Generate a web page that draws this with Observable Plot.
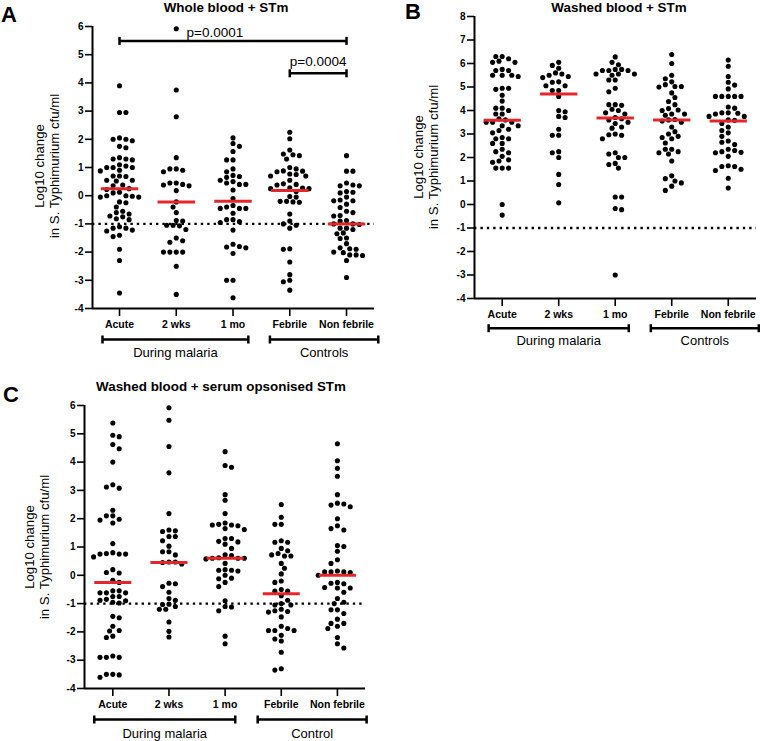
<!DOCTYPE html>
<html><head><meta charset="utf-8">
<script src="https://cdn.jsdelivr.net/npm/d3@7"></script>
<script src="https://cdn.jsdelivr.net/npm/@observablehq/plot@0.6"></script>
<style>
body{margin:0;background:#fff;font-family:"Liberation Sans",Arial,Helvetica,sans-serif}
#wrap{position:relative;width:760px;height:741px;overflow:hidden;background:#fff}
.panel{position:absolute}
.panel svg{overflow:visible}
.letter{position:absolute;font-weight:bold;font-size:22px;line-height:1}
.title{position:absolute;font-weight:bold;font-size:13.4px;line-height:1;transform:translateX(-50%);white-space:nowrap}
.ytitle{position:absolute;font-size:13.2px;line-height:15px;white-space:pre;text-align:center;transform:translate(-50%,-50%) rotate(-90deg)}
</style></head><body><div id="wrap"></div>
<script>
// ---------- data ----------
const categories = ["Acute", "2 wks", "1 mo", "Febrile", "Non febrile"];
const yTitle = "Log10 change\nin S. Typhimurium cfu/ml";

// Panel A: Whole blood + STm
const A_acute = [3.9, 2.95, 2.95, 2.05, 2.0, 1.95, 2.0, 1.7, 1.75, 1.35, 1.3, 1.3, 1.27, 1.1, 1.0, 1.0, 1.05, 1.0, 0.9, 0.88, 0.7, 0.7, 0.68, 0.55, 0.55, 0.52, 0.38, 0.35, 0.25, 0.22, 0.12, 0.1, -0.02, -0.05, 0.0, -0.05, 0.0, -0.22, -0.25, -0.4, -0.6, -0.55, -0.65, -0.75, -0.72, -0.85, -0.82, -1.15, -1.15, -1.1, -1.22, -1.25, -1.4, -1.45, -1.9, -2.3, -3.45];
const A_2wks = [5.92, 3.75, 2.8, 1.35, 0.9, 0.85, 0.95, 0.95, 0.45, 0.38, 0.45, 0.4, 0.35, 0.18, -0.22, -0.4, -0.6, -0.9, -0.88, -1.05, -1.05, -1.07, -1.2, -1.5, -1.6, -1.65, -2.0, -2.0, -2.0, -2.0, -2.5, -3.5];
const A_1mo = [2.05, 1.85, 1.75, 1.57, 1.27, 1.27, 0.95, 0.85, 0.68, 0.72, 0.65, 0.55, 0.5, 0.45, 0.4, 0.4, 0.2, -0.1, -0.35, -0.4, -0.45, -0.45, -0.45, -0.62, -0.85, -0.85, -0.92, -0.95, -1.22, -1.72, -1.8, -1.85, -1.82, -2.05, -3.0, -3.0, -3.62];
const A_febrile = [2.25, 2.02, 1.62, 1.48, 1.45, 1.42, 1.3, 1.0, 0.95, 0.88, 0.85, 0.87, 0.77, 0.75, 0.7, 0.7, 0.55, 0.42, 0.4, 0.38, 0.28, 0.25, 0.27, 0.25, 0.15, -0.05, -0.03, -0.2, -0.22, -0.2, -0.23, -0.65, -0.9, -1.0, -1.05, -1.15, -1.9, -1.88, -2.35, -2.8, -3.0, -3.05, -3.35];
const A_nonfebrile = [1.42, 0.87, 0.87, 0.45, 0.38, 0.35, 0.35, 0.12, 0.1, 0.15, -0.05, -0.18, -0.18, -0.15, -0.3, -0.42, -0.6, -0.55, -0.72, -0.7, -0.88, -0.9, -1.0, -1.0, -1.02, -1.15, -1.15, -1.2, -1.32, -1.35, -1.5, -1.52, -1.7, -1.85, -1.9, -1.88, -2.0, -2.02, -2.1, -2.12, -2.1, -2.3, -2.9];
const A_medians = [0.25, -0.22, -0.2, 0.18, -1.0];
const A_comparisons = [
  {from: "Acute", to: "Non febrile", y: 5.49, label: "p=0.0001", labelAt: 1.68, gap: 3.5},
  {from: "Febrile", to: "Non febrile", y: 4.34, label: "p=0.0004", labelAt: 3.5, gap: 7.5}
];

// Panel B: Washed blood + STm
const B_acute = [6.3, 6.3, 6.2, 6.1, 6.05, 6.05, 5.75, 5.7, 5.7, 5.5, 5.5, 5.45, 5.5, 4.95, 4.95, 4.9, 4.65, 4.4, 4.1, 4.1, 4.0, 3.85, 3.85, 3.65, 3.6, 3.5, 3.5, 3.5, 3.35, 3.35, 3.2, 3.15, 3.05, 2.8, 2.8, 2.85, 2.6, 2.6, 2.35, 2.25, 2.2, 2.05, 1.9, 1.85, 1.8, 1.55, 1.55, 1.55, 0.0, -0.45];
const B_2wks = [6.05, 5.92, 5.8, 5.6, 5.55, 5.5, 5.45, 5.4, 5.2, 5.22, 5.05, 5.05, 4.85, 4.85, 4.6, 4.0, 3.95, 3.75, 3.7, 3.2, 2.95, 2.95, 2.25, 2.2, 2.0, 1.28, 0.85, 0.07];
const B_1mo = [6.28, 6.05, 5.95, 5.75, 5.75, 5.7, 5.7, 5.7, 5.55, 5.55, 5.5, 5.55, 5.3, 5.3, 4.95, 4.8, 4.25, 4.25, 4.22, 4.0, 4.05, 3.9, 3.85, 3.65, 3.7, 3.6, 3.45, 3.5, 3.25, 3.3, 2.97, 3.0, 2.95, 2.8, 2.2, 2.15, 2.0, 2.0, 1.75, 1.7, 1.55, 0.32, 0.32, -0.17, -0.22, -3.0];
const B_febrile = [6.38, 6.0, 5.5, 5.35, 5.22, 5.1, 5.02, 5.0, 5.02, 4.75, 4.55, 4.38, 4.25, 4.08, 4.0, 4.02, 3.85, 3.85, 3.8, 3.62, 3.6, 3.5, 3.55, 3.3, 3.1, 3.0, 2.9, 2.85, 2.8, 2.62, 2.35, 2.35, 2.25, 2.2, 2.15, 1.85, 1.22, 1.0, 0.92, 1.1, 0.78, 0.6];
const B_nonfebrile = [6.15, 5.88, 5.45, 5.2, 5.08, 4.92, 4.6, 4.6, 4.6, 4.6, 4.6, 4.15, 4.1, 3.9, 3.9, 3.88, 3.85, 3.75, 3.75, 3.6, 3.58, 3.45, 3.3, 3.15, 3.05, 2.9, 2.7, 2.65, 2.55, 2.35, 2.3, 2.25, 2.22, 2.2, 2.05, 1.65, 1.62, 1.5, 1.45, 1.62, 1.12, 0.7];
const B_medians = [3.58, 4.7, 3.68, 3.6, 3.55];

// Panel C: Washed blood + serum opsonised STm
const C_acute = [5.38, 4.95, 4.9, 4.62, 4.47, 4.0, 3.12, 3.08, 3.2, 2.3, 2.1, 2.1, 1.98, 1.95, 1.85, 1.12, 0.77, 0.8, 0.75, 0.75, 0.75, 0.65, 0.2, 0.1, 0.08, -0.18, -0.25, -0.55, -0.55, -0.62, -0.62, -0.62, -0.75, -0.75, -0.85, -0.88, -0.9, -0.95, -0.98, -1.5, -1.45, -1.8, -1.95, -1.97, -2.2, -2.15, -2.85, -2.9, -2.9, -2.9, -3.52, -3.6, -3.5, -3.5];
const C_2wks = [5.92, 5.48, 4.55, 3.62, 2.18, 1.57, 1.6, 1.55, 1.37, 1.37, 1.22, 1.03, 0.83, 0.83, 0.72, 0.47, 0.47, 0.45, 0.4, -0.28, -0.3, -0.4, -0.6, -0.82, -0.88, -1.03, -1.02, -1.1, -1.2, -1.2, -1.65, -1.98, -2.18];
const C_1mo = [4.37, 3.88, 3.82, 2.85, 2.65, 2.18, 1.85, 1.8, 1.78, 1.78, 1.75, 1.65, 1.62, 1.3, 1.3, 1.2, 1.18, 1.1, 0.95, 0.72, 0.7, 0.62, 0.6, 0.6, 0.6, 0.58, 0.42, 0.2, 0.18, 0.15, 0.18, 0.0, -0.1, -0.12, -0.25, -0.4, -0.9, -1.1, -1.12, -1.25, -2.15, -2.42];
const C_febrile = [2.5, 2.05, 1.8, 1.8, 1.22, 1.17, 1.17, 0.95, 0.87, 0.77, 0.72, 0.68, 0.68, 0.42, 0.25, 0.05, -0.2, -0.25, -0.5, -0.56, -0.56, -0.72, -0.88, -1.0, -1.05, -1.05, -1.2, -1.25, -1.28, -1.3, -1.47, -1.8, -1.88, -1.95, -1.95, -1.95, -2.12, -2.25, -2.32, -2.72, -3.3, -3.35];
const C_nonfebrile = [4.65, 4.05, 3.78, 3.5, 2.85, 2.55, 2.52, 2.48, 2.42, 2.0, 1.75, 1.65, 1.6, 1.05, 1.02, 0.85, 0.55, 0.42, 0.12, 0.15, 0.12, 0.1, 0.12, 0.0, -0.25, -0.28, -0.3, -0.45, -0.43, -0.45, -0.6, -0.82, -0.95, -1.0, -1.22, -1.22, -1.35, -1.55, -1.7, -1.7, -1.88, -1.8, -2.2, -2.42, -2.57];
const C_medians = [-0.25, 0.45, 0.6, -0.65, 0.0];

const threshold = -1;
const groupsControls = [{label: "During malaria", from: "Acute", to: "1 mo"}, {label: "Controls", from: "Febrile", to: "Non febrile"}];
const groupsControl = [{label: "During malaria", from: "Acute", to: "1 mo"}, {label: "Control", from: "Febrile", to: "Non febrile"}];

// ---------- layout / style ----------
const FONT = '"Liberation Sans", Arial, Helvetica, sans-serif';
const RED = "#e3262b";
const DOT_R = 2.55, DOT_STEP = 6.4, DOT_MINDIST = 5.6;

// beeswarm: place each value at the free horizontal offset nearest the category centre
function swarmOffsets(values, toPx, step, minDist) {
  const order = d3.range(values.length).sort((a, b) => values[b] - values[a]);
  const placed = [];
  const off = new Array(values.length).fill(0);
  let flip = 1;
  for (const i of order) {
    const py = toPx(values[i]);
    let chosen = 0;
    for (let k = 0; k < 200; k++) {
      const c0 = k * step / 2;
      const cands = k === 0 ? [0] : [flip * c0, -flip * c0];
      let found = null;
      for (const c of cands) {
        if (placed.every(p => (p.x - c) ** 2 + (p.y - py) ** 2 >= minDist * minDist)) { found = c; break; }
      }
      if (found !== null) { chosen = found; break; }
    }
    flip = -flip;
    off[i] = chosen;
    placed.push({x: chosen, y: py});
  }
  return off;
}

function makePanel(cfg) {
  const {series, medians, yDomain, yTicks, width, height, mt, mb, ml, mr, xDomain,
         groups, groupPads, comparisons, bracketGap, groupTextGap} = cfg;
  const yS = Plot.scale({y: {domain: yDomain, range: [height - mb, mt]}});
  const yPx = v => yS.apply(v);
  const yVal = px => yS.invert(px);
  const xPerPx = (xDomain[1] - xDomain[0]) / (width - ml - mr);
  const idx = c => categories.indexOf(c);

  const pts = [];
  series.forEach((vals, ci) => {
    const offs = swarmOffsets(vals, yPx, DOT_STEP, DOT_MINDIST);
    vals.forEach((v, j) => pts.push({ci, v, x: ci + offs[j] * xPerPx}));
  });
  const med = medians.map((m, ci) => ({ci, m}));

  const bottomPx = yPx(yDomain[0]);
  const gY = yVal(bottomPx + bracketGap);
  const cap = 4;
  const gData = groups.map((g, k) => ({
    label: g.label,
    x1: idx(g.from) - groupPads[k][0],
    x2: idx(g.to) + groupPads[k][1]
  }));
  const gCaps = gData.flatMap(g => [g.x1, g.x2].map(x => ({x, y1: yVal(bottomPx + bracketGap - cap), y2: yVal(bottomPx + bracketGap + cap)})));
  const gText = gData.map(g => ({label: g.label, x: (g.x1 + g.x2) / 2, y: yVal(bottomPx + bracketGap + groupTextGap)}));

  const comp = (comparisons || []).map(c => ({...c, x1: idx(c.from), x2: idx(c.to)}));
  const compCaps = comp.flatMap(c => [c.x1, c.x2].map(x => ({x, y1: yVal(yPx(c.y) - cap), y2: yVal(yPx(c.y) + cap)})));
  const compText = comp.map(c => ({label: c.label, x: c.labelAt, y: yVal(yPx(c.y) - c.gap)}));

  return Plot.plot({
    width, height, marginTop: mt, marginBottom: mb, marginLeft: ml, marginRight: mr,
    style: {fontFamily: FONT, fontWeight: "bold", color: "black", background: "transparent", overflow: "visible"},
    x: {domain: xDomain},
    y: {domain: yDomain},
    marks: [
      Plot.ruleY([threshold], {stroke: "black", strokeWidth: 2.4, strokeDasharray: "2.4,4"}),
      Plot.dot(pts, {x: "x", y: "v", r: DOT_R, fill: "black", stroke: "none"}),
      Plot.link(med, {x1: d => d.ci - 0.33, x2: d => d.ci + 0.33, y1: "m", y2: "m", stroke: RED, strokeWidth: 3}),
      Plot.axisY({ticks: yTicks, tickSize: 7, tickPadding: 2, tickFormat: d => String(d), fontSize: 10, fontWeight: "bold", strokeWidth: 1.6, label: null}),
      Plot.axisX({ticks: d3.range(categories.length), tickSize: 8, tickPadding: 4, tickFormat: i => categories[i], fontSize: 10.5, fontWeight: "bold", strokeWidth: 1.6, label: null}),
      Plot.ruleX([xDomain[0]], {stroke: "black", strokeWidth: 2}),
      Plot.ruleY([yDomain[0]], {stroke: "black", strokeWidth: 2}),
      // group brackets
      Plot.link(gData, {x1: "x1", x2: "x2", y1: () => gY, y2: () => gY, stroke: "black", strokeWidth: 2.5}),
      Plot.link(gCaps, {x1: "x", x2: "x", y1: "y1", y2: "y2", stroke: "black", strokeWidth: 2.5}),
      Plot.text(gText, {x: "x", y: "y", text: "label", fontSize: 13, fontWeight: "normal", lineAnchor: "middle"}),
      // comparison brackets
      Plot.link(comp, {x1: "x1", x2: "x2", y1: "y", y2: "y", stroke: "black", strokeWidth: 2.5}),
      Plot.link(compCaps, {x1: "x", x2: "x", y1: "y1", y2: "y2", stroke: "black", strokeWidth: 2.5}),
      Plot.text(compText, {x: "x", y: "y", text: "label", fontSize: 13.5, fontWeight: "normal", lineAnchor: "bottom"})
    ]
  });
}

const wrap = document.getElementById("wrap");
function place(node, left, top) {
  const d = document.createElement("div");
  d.className = "panel"; d.style.left = left + "px"; d.style.top = top + "px";
  d.appendChild(node); wrap.appendChild(d);
}
function label(cls, text, left, top) {
  const d = document.createElement("div");
  d.className = cls; d.textContent = text; d.style.left = left + "px"; d.style.top = top + "px";
  wrap.appendChild(d);
}

place(makePanel({
  series: [A_acute, A_2wks, A_1mo, A_febrile, A_nonfebrile], medians: A_medians,
  yDomain: [-4, 6], yTicks: d3.range(-4, 7), width: 380, height: 370, mt: 26, mb: 62, ml: 92, mr: 6,
  xDomain: [-0.476, 4.493], groups: groupsControls, groupPads: [[0.3, 0.27], [0.35, 0.56]],
  comparisons: A_comparisons, bracketGap: 31, groupTextGap: 13
}), 0, 0);

place(makePanel({
  series: [B_acute, B_2wks, B_1mo, B_febrile, B_nonfebrile], medians: B_medians,
  yDomain: [-4, 8], yTicks: d3.range(-4, 9), width: 380, height: 370, mt: 16, mb: 72, ml: 94, mr: 4,
  xDomain: [-0.49, 4.5], groups: groupsControls, groupPads: [[0.24, 0.24], [0.37, 0.54]],
  comparisons: [], bracketGap: 29.7, groupTextGap: 12.5
}), 380, 0);

place(makePanel({
  series: [C_acute, C_2wks, C_1mo, C_febrile, C_nonfebrile], medians: C_medians,
  yDomain: [-4, 6], yTicks: d3.range(-4, 7), width: 380, height: 371, mt: 35, mb: 53, ml: 84, mr: 15,
  xDomain: [-0.504, 4.5], groups: groupsControl, groupPads: [[0.33, 0.18], [0.42, 0.52]],
  comparisons: [], bracketGap: 31, groupTextGap: 14
}), 0, 370);

label("letter", "A", 1, 4);
label("letter", "B", 405, 1.4);
label("letter", "C", 3, 384.4);
label("title", "Whole blood + STm", 226, 1);
label("title", "Washed blood + STm", 619, 1);
label("title", "Washed blood + serum opsonised STm", 221, 380.4);
label("ytitle", yTitle, 46.5, 166);
label("ytitle", yTitle, 426, 157);
label("ytitle", yTitle, 37, 546.5);
</script></body></html>
